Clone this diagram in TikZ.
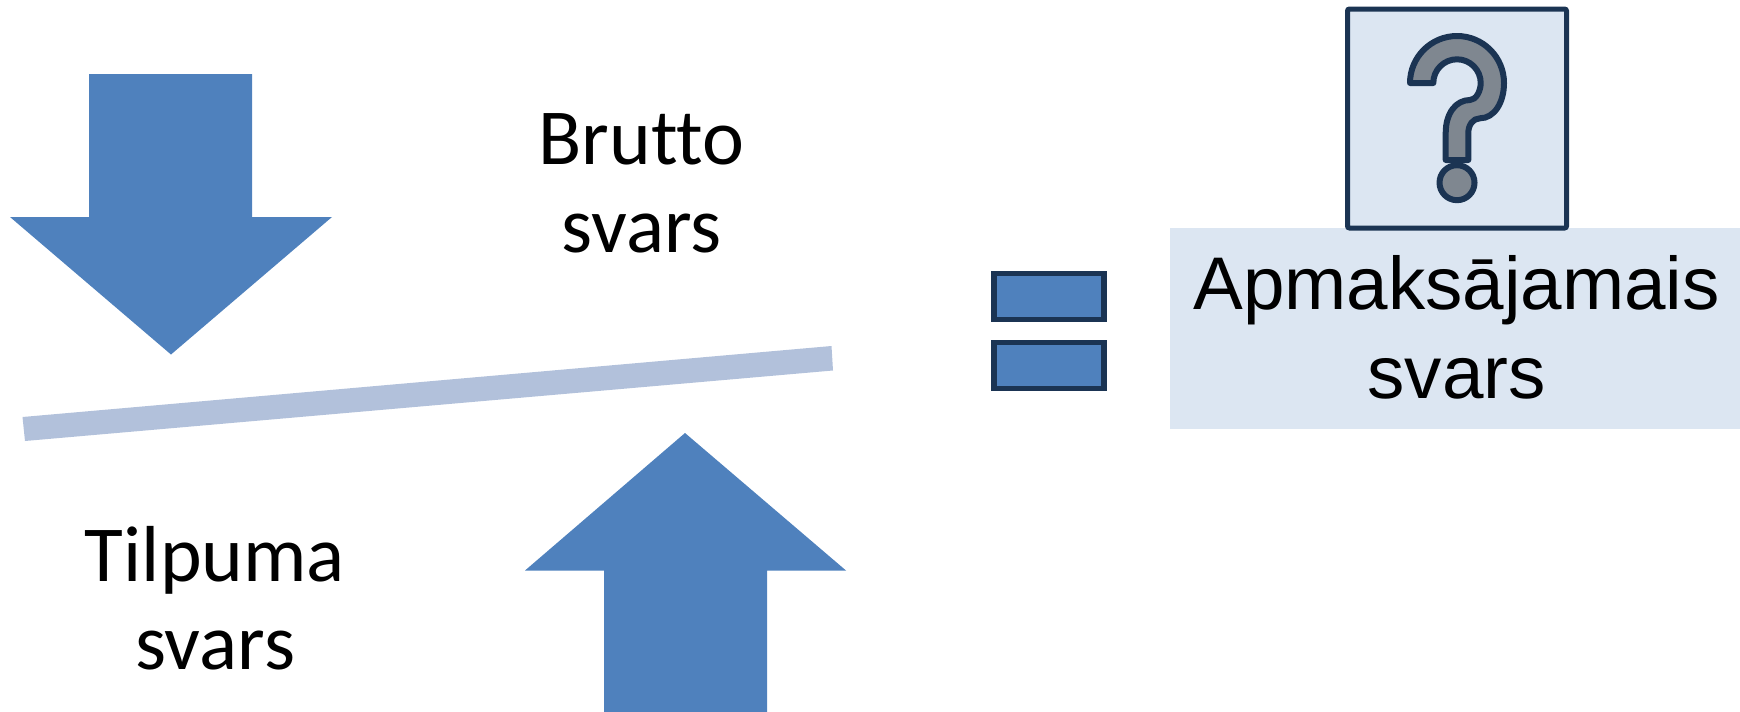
\documentclass[tikz,border=0pt]{standalone}
\usepackage{fontspec}
\setmainfont[RawFeature=-liga]{Carlito}
\newfontfamily\arialfont{Liberation Sans}
\definecolor{arrowblue}{HTML}{4F81BD}
\definecolor{barblue}{HTML}{B2C1DB}
\definecolor{paleblue}{HTML}{DCE6F2}
\definecolor{darkblue}{HTML}{1B3453}
\definecolor{markgray}{HTML}{7F8790}
\begin{document}
\begin{tikzpicture}[y=-0.5pt, x=0.5pt, inner sep=0pt, outer sep=0pt,
	bigarrow/.style={fill=arrowblue},
	eqbar/.style={rectangle, draw=darkblue, fill=arrowblue, line width=2.8, minimum width=55, minimum height=23},
	lbl/.style={align=center, font=\fontsize{39.7}{44}\selectfont},
	questionmark/.style={draw=darkblue, fill=markgray, line width=3, line join=round}]
\useasboundingbox (0,0) rectangle (1740,712);
	\fill[bigarrow] (89,74) -- (252,74) -- (252,217) -- (332,217) -- (171,354.5) -- (10,217) -- (89,217) -- cycle;
	\fill[bigarrow] (604,712) -- (767,712) -- (767,570.5) -- (846,570.5) -- (685,433) -- (525,570.5) -- (604,570.5) -- cycle;
	\fill[barblue] (22.5,417) -- (831.5,346) -- (833,370.5) -- (25,441) -- cycle;
	\node[lbl] (Brutto) at (641.5,183) {Brutto\\svars};
	\node[lbl] (Tilpuma) at (215,598) {Tilpuma\\svars};
	\node[eqbar] (EqTop) at (1049,296.5) {};
	\node[eqbar] (EqBottom) at (1049,365.5) {};
	\node[rectangle, fill=paleblue, minimum width=285, minimum height=100.5] (Paid) at (1455,328.5) {};
	\node[align=center, font=\arialfont\fontsize{37.3}{44.5}\selectfont] (PaidText) at (1456.5,327.5) {Apmaksājamais\\svars};
	\node[rectangle, draw=darkblue, fill=paleblue, line width=2.5, rounded corners=1, minimum width=109.5, minimum height=109.5] (Box) at (1457,118.5) {};
	\draw[questionmark] (1410,83) arc[start angle=180, end angle=360, radius=47]
		.. controls (1504,103) and (1494,118.3) .. (1480,118.3)
		.. controls (1473,118.3) and (1468.3,125) .. (1468.3,133) -- (1468.3,160) -- (1445.7,160) -- (1445.7,133)
		.. controls (1445.7,113) and (1456,100) .. (1470,100)
		.. controls (1476,100) and (1480.7,91) .. (1480.7,83)
		arc[start angle=360, end angle=180, radius=23.7] -- cycle;
	\draw[questionmark] (1457,182.7) circle[radius=17.5];
\end{tikzpicture}
\end{document}
